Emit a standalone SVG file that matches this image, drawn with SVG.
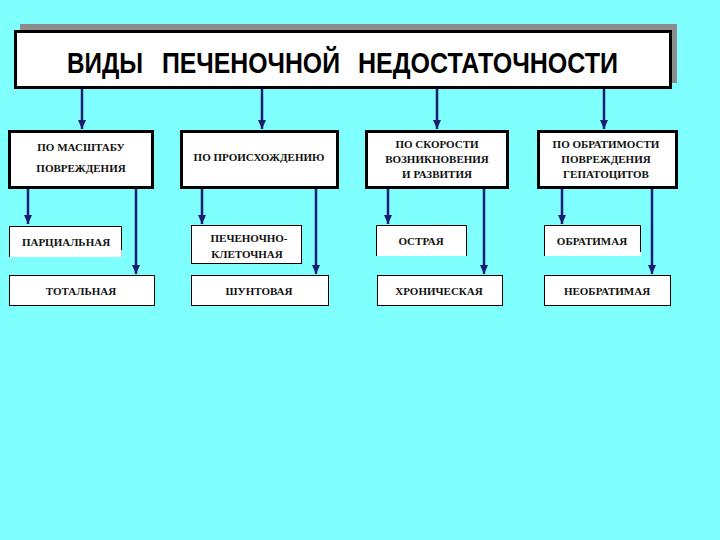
<svg xmlns="http://www.w3.org/2000/svg" width="720" height="540" viewBox="0 0 720 540">
<defs>
<style>
.cat{fill:#fff;stroke:#000;stroke-width:3}
.sub{fill:#fff;stroke:#000;stroke-width:1}
.bg{fill:#fff;stroke:none}
.edge{fill:none;stroke:#000;stroke-width:1}
.t{font-family:"Liberation Serif","Times New Roman",serif;font-weight:bold;font-size:11px;fill:#111;text-anchor:middle}
.ttl{font-family:"Liberation Sans",Arial,sans-serif;font-weight:bold;font-size:29px;fill:#000}
.c{stroke:#1c1c72;stroke-width:2.5;fill:none;marker-end:url(#ah)}
</style>
<marker id="ah" viewBox="0 0 9 8" refX="9" refY="4" markerWidth="9" markerHeight="8" markerUnits="userSpaceOnUse" orient="auto">
<path d="M0,0 L9,4 L0,8 Z" fill="#1c1c72"/>
</marker>
</defs>
<rect width="720" height="540" fill="#80FFFF"/>
<g id="title">
<rect x="20" y="24" width="657" height="59" fill="#8c8c8c"/>
<rect x="15.5" y="31.5" width="655" height="56" class="cat"/>
<text x="67" y="73" class="ttl" textLength="76" lengthAdjust="spacingAndGlyphs">ВИДЫ</text>
<text x="162" y="73" class="ttl" textLength="178" lengthAdjust="spacingAndGlyphs">ПЕЧЕНОЧНОЙ</text>
<text x="358" y="73" class="ttl" textLength="260" lengthAdjust="spacingAndGlyphs">НЕДОСТАТОЧНОСТИ</text>
</g>
<g id="connectors">
<line x1="82" y1="89" x2="82" y2="129" class="c"/>
<line x1="262" y1="89" x2="262" y2="129" class="c"/>
<line x1="437" y1="89" x2="437" y2="129" class="c"/>
<line x1="604" y1="89" x2="604" y2="129" class="c"/>
<line x1="28" y1="189" x2="28" y2="224" class="c"/>
<line x1="136" y1="189" x2="136" y2="274" class="c"/>
<line x1="202" y1="189" x2="202" y2="224" class="c"/>
<line x1="316" y1="189" x2="316" y2="274" class="c"/>
<line x1="388" y1="189" x2="388" y2="224" class="c"/>
<line x1="484" y1="189" x2="484" y2="274" class="c"/>
<line x1="562" y1="189" x2="562" y2="224" class="c"/>
<line x1="652" y1="189" x2="652" y2="274" class="c"/>
</g>
<g id="cat1">
<rect x="9.5" y="131.5" width="143" height="56" class="cat"/>
<text x="81" y="151" class="t">ПО МАСШТАБУ</text>
<text x="81" y="172" class="t">ПОВРЕЖДЕНИЯ</text>
</g>
<g id="cat2">
<rect x="181.5" y="131.5" width="156" height="56" class="cat"/>
<text x="259" y="161" class="t">ПО ПРОИСХОЖДЕНИЮ</text>
</g>
<g id="cat3">
<rect x="366.5" y="131.5" width="141" height="56" class="cat"/>
<text x="437" y="148" class="t">ПО СКОРОСТИ</text>
<text x="437" y="163" class="t">ВОЗНИКНОВЕНИЯ</text>
<text x="437" y="178" class="t">И РАЗВИТИЯ</text>
</g>
<g id="cat4">
<rect x="538.5" y="131.5" width="138" height="56" class="cat"/>
<text x="606" y="148" class="t">ПО ОБРАТИМОСТИ</text>
<text x="606" y="163" class="t">ПОВРЕЖДЕНИЯ</text>
<text x="606" y="178" class="t">ГЕПАТОЦИТОВ</text>
</g>
<g id="partial">
<rect x="9" y="226" width="113" height="31" class="bg"/>
<path d="M9.5,257 V226.5 H121.5 V250" class="edge"/>
<path d="M121.5,250 V257" stroke="#ccc" fill="none"/>
<text x="66" y="246" class="t">ПАРЦИАЛЬНАЯ</text>
</g>
<g id="total">
<rect x="9.5" y="275.5" width="145" height="30" class="sub"/>
<text x="81" y="295" class="t">ТОТАЛЬНАЯ</text>
</g>
<g id="hepatocellular">
<rect x="191.5" y="225.5" width="110" height="38" class="sub"/>
<text x="249" y="242" class="t">ПЕЧЕНОЧНО-</text>
<text x="247" y="258" class="t">КЛЕТОЧНАЯ</text>
</g>
<g id="shunt">
<rect x="191.5" y="275.5" width="137" height="30" class="sub"/>
<text x="259" y="295" class="t">ШУНТОВАЯ</text>
</g>
<g id="acute">
<rect x="376" y="225" width="91" height="31" class="bg"/>
<path d="M376.5,256 V225.5 H466.5 V256" class="edge"/>
<text x="421" y="245" class="t">ОСТРАЯ</text>
</g>
<g id="chronic">
<rect x="377.5" y="275.5" width="125" height="30" class="sub"/>
<text x="439" y="295" class="t">ХРОНИЧЕСКАЯ</text>
</g>
<g id="reversible">
<rect x="544" y="225" width="97" height="31" class="bg"/>
<path d="M544.5,256 V225.5 H640.5 V252" class="edge"/>
<text x="592" y="245" class="t">ОБРАТИМАЯ</text>
</g>
<g id="irreversible">
<rect x="544.5" y="275.5" width="126" height="30" class="sub"/>
<text x="607" y="295" class="t">НЕОБРАТИМАЯ</text>
</g>
</svg>
